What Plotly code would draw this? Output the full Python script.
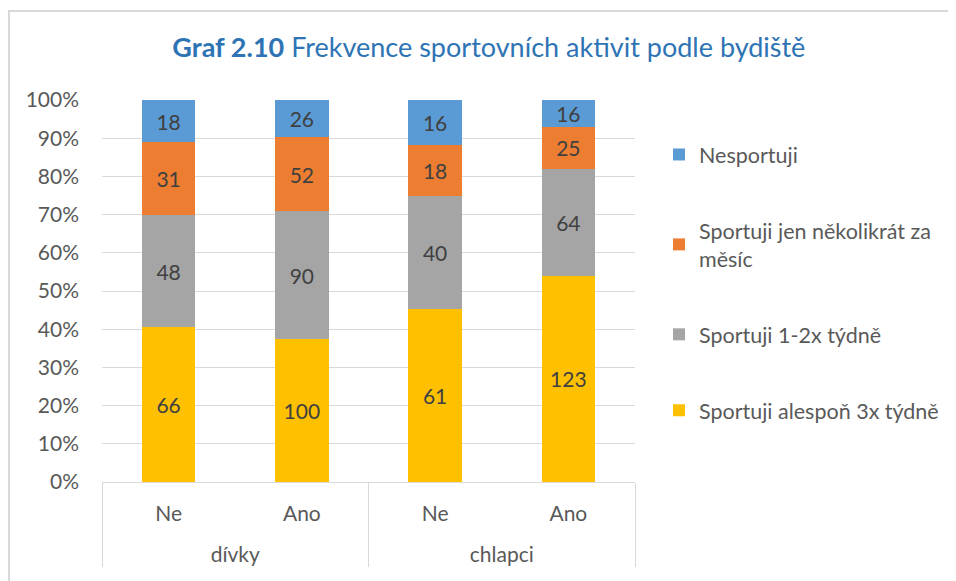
import plotly.graph_objects as go

groups = ["dívky", "dívky", "chlapci", "chlapci"]
subcats = ["Ne", "Ano", "Ne", "Ano"]

series_names = [
    "Sportuji alespoň 3x týdně",
    "Sportuji 1-2x týdně",
    "Sportuji jen několikrát za<br>měsíc",
    "Nesportuji",
]
alespon3x = [66, 100, 61, 123]
tydne12 = [48, 90, 40, 64]
nekolikrat = [31, 52, 18, 25]
nesportuji = [18, 26, 16, 16]
series_values = [alespon3x, tydne12, nekolikrat, nesportuji]
colors = ["#FFC000", "#A5A5A5", "#ED7D31", "#5B9BD5"]

FONT = "Lato"
FS = 21
ML, MT, PW, PH = 94, 92, 533, 382

fig = go.Figure()
for i, (name, vals, col) in enumerate(zip(series_names, series_values, colors)):
    fig.add_trace(go.Bar(
        x=[groups, [s + "<br> " for s in subcats]], y=vals, name=name,
        marker=dict(color=col, line=dict(width=0)),
        text=[str(v) for v in vals], textposition="inside",
        insidetextanchor="middle", textangle=0, constraintext="none",
        textfont=dict(family=FONT, size=FS, color="#404040"),
        legendgroup=str(i), legendrank=10 - i,
    ))

fig.update_layout(
    barmode="stack", barnorm="percent", bargap=0.6,
    width=956, height=581,
    margin=dict(l=ML, r=956 - ML - PW, t=MT, b=581 - MT - PH),
    paper_bgcolor="white", plot_bgcolor="white",
    font=dict(family=FONT, size=FS, color="#595959"),
    title=dict(
        text="<b>Graf 2.10</b> Frekvence sportovních aktivit podle bydiště",
        x=0.503, xanchor="center", y=1 - 40 / 581, yanchor="middle",
        font=dict(family=FONT, size=27, color="#2E74B5"),
    ),
    legend=dict(
        x=1.045, xanchor="left", y=0.911, yanchor="top",
        traceorder="grouped", tracegroupgap=45,
        font=dict(family=FONT, size=21.5, color="#595959"),
        itemwidth=30,
    ),
    showlegend=True,
)
fig.update_yaxes(
    range=[0, 100], dtick=10, ticksuffix="%", automargin=False,
    showgrid=True, gridcolor="#D9D9D9", gridwidth=1,
    zeroline=False, showline=False, ticks="", ticklabelstandoff=22,
    tickfont=dict(family=FONT, size=FS, color="#595959"),
)
fig.update_xaxes(
    type="multicategory", showline=True, linecolor="#D9D9D9", linewidth=1,
    showdividers=True, dividercolor="#D9D9D9", dividerwidth=1, automargin=False,
    ticks="", ticklabelstandoff=13,
    tickfont=dict(family=FONT, size=FS, color="#595959"),
)
fig.add_shape(type="rect", xref="paper", yref="paper",
              x0=(1 - ML) / PW, x1=(970 - ML) / PW,
              y0=(MT + PH - 600) / PH, y1=(MT + PH - 3) / PH,
              line=dict(color="#D9D9D9", width=2), layer="below")
fig.write_html("out.html")
